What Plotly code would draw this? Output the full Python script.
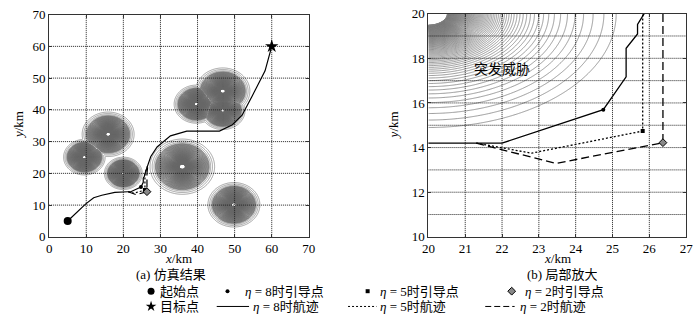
import numpy as np
import plotly.graph_objects as go

# ---------------- data ----------------
# threats: centre x, centre y, outer radius (km)
threat_x = [9.5, 15.9, 20.0, 35.9, 39.7, 46.8, 46.8, 49.8]
threat_y = [25.1, 32.3, 20.0, 22.1, 41.8, 45.9, 39.8, 10.1]
threat_r = [5.6, 7.0, 5.1, 8.7, 6.0, 7.3, 6.0, 7.0]

start_pt = (5.0, 5.0)
target_pt = (60.0, 60.0)

# eta = 8 route
eta8_x = [5.0, 9.8, 12.0, 14.2, 17.7, 19.5, 21.3, 22.0, 24.75, 25.37, 25.37, 25.68, 25.68, 25.86,
          26.6, 27.4, 29.1, 32.7, 37.1, 45.9, 49.4, 52.0, 54.7, 58.2, 60.0]
eta8_y = [5.0, 10.3, 12.3, 13.1, 14.0, 14.2, 14.2, 14.2, 15.7, 17.17, 18.45, 19.09, 19.52, 20.0,
          22.6, 25.3, 28.3, 31.8, 33.3, 33.3, 35.3, 38.3, 44.3, 52.3, 60.0]
# eta = 5 and eta = 2 routes (where they differ from eta = 8)
eta5_x = [21.3, 22.8, 25.82, 25.82, 26.6]
eta5_y = [14.2, 13.75, 14.74, 20.0, 22.6]
eta2_x = [21.3, 23.46, 26.37, 26.37, 26.6]
eta2_y = [14.2, 13.29, 14.22, 20.0, 22.6]
# guide points
guide8 = (24.75, 15.7)
guide5 = (25.82, 14.74)
guide2 = (26.37, 14.22)

left_ticks = list(range(0, 71, 10))
right_xticks = list(range(20, 28))
right_yticks = list(range(10, 21, 2))
right_ygrid = list(range(10, 21))

FONT = "Liberation Serif, Noto Sans CJK SC, serif"
W, H = 700, 324


def field(xs, ys):
    X, Y = np.meshgrid(xs, ys)
    f = np.zeros_like(X)
    for cx, cy, r in zip(threat_x, threat_y, threat_r):
        d = np.hypot(X - cx, Y - cy)
        f = np.maximum(f, r / np.maximum(d, 1e-3))
    return np.minimum(f, 30)


fig = go.Figure()

# left panel: a few outer rings + dense (log-spaced) core
xl = np.linspace(0, 70, 401)
yl = np.linspace(0, 70, 401)
fl = field(xl, yl)
fig.add_trace(go.Contour(x=xl, y=yl, z=fl, contours=dict(coloring="none", start=1.0, end=1.15, size=0.07),
                         line=dict(color="#8a8a8a", width=0.8), showscale=False,
                         hoverinfo="skip", xaxis="x", yaxis="y"))
fig.add_trace(go.Contour(x=xl, y=yl, z=np.log(fl),
                         contours=dict(coloring="none", start=np.log(1.2), end=np.log(11), size=0.028),
                         line=dict(color="#666666", width=0.9), showscale=False,
                         hoverinfo="skip", xaxis="x", yaxis="y"))
# right panel (zoom)
xr = np.linspace(20, 27, 281)
yr = np.linspace(10, 20, 401)
fig.add_trace(go.Contour(x=xr, y=yr, z=field(xr, yr), contours=dict(coloring="none", start=1.0, end=10.0, size=0.07),
                         line=dict(color="#808080", width=0.8), showscale=False,
                         hoverinfo="skip", xaxis="x2", yaxis="y2"))

grid_line = dict(color="#222", width=1, dash="1px,1px")


def grid(xv, yv, x0, x1, y0, y1, xa, ya):
    gx, gy = [], []
    for v in xv:
        if x0 < v < x1:
            gx += [v, v, None]
            gy += [y0, y1, None]
    for v in yv:
        if y0 < v < y1:
            gx += [x0, x1, None]
            gy += [v, v, None]
    fig.add_trace(go.Scatter(x=gx, y=gy, mode="lines", line=grid_line, hoverinfo="skip",
                             showlegend=False, xaxis=xa, yaxis=ya))


grid(left_ticks, left_ticks, 0, 70, 0, 70, "x", "y")
grid(right_xticks, right_ygrid, 20, 27, 10, 20, "x2", "y2")

for xa, ya, lw in (("x", "y", 1.2), ("x2", "y2", 1.3)):
    fig.add_trace(go.Scatter(x=eta5_x, y=eta5_y, mode="lines", line=dict(color="black", width=lw, dash="2px,2px"),
                             xaxis=xa, yaxis=ya, showlegend=False))
    fig.add_trace(go.Scatter(x=eta2_x, y=eta2_y, mode="lines", line=dict(color="black", width=lw, dash="8px,4px"),
                             xaxis=xa, yaxis=ya, showlegend=False))
    fig.add_trace(go.Scatter(x=eta8_x, y=eta8_y, mode="lines", line=dict(color="black", width=lw),
                             xaxis=xa, yaxis=ya, showlegend=False))
    fig.add_trace(go.Scatter(x=[guide8[0]], y=[guide8[1]], mode="markers",
                             marker=dict(symbol="circle", size=4, color="black"), xaxis=xa, yaxis=ya, showlegend=False))
    fig.add_trace(go.Scatter(x=[guide5[0]], y=[guide5[1]], mode="markers",
                             marker=dict(symbol="square", size=4, color="black"), xaxis=xa, yaxis=ya, showlegend=False))
    fig.add_trace(go.Scatter(x=[guide2[0]], y=[guide2[1]], mode="markers",
                             marker=dict(symbol="diamond", size=6, color="#888", line=dict(color="black", width=1)),
                             xaxis=xa, yaxis=ya, showlegend=False))

fig.add_trace(go.Scatter(x=[start_pt[0]], y=[start_pt[1]], mode="markers",
                         marker=dict(symbol="circle", size=8, color="black"), xaxis="x", yaxis="y", showlegend=False))
fig.add_trace(go.Scatter(x=[target_pt[0]], y=[target_pt[1]], mode="markers",
                         marker=dict(symbol="star", size=10, color="black"), xaxis="x", yaxis="y", showlegend=False))

# ---------------- manual legend (pixel overlay) ----------------
r1, r2 = 298, 314
leg_marks = [
    (147, r1, "circle", 7, "black", None),
    (225, r1, "circle", 4, "black", None),
    (368, r1, "square", 4, "black", None),
    (515, r1, "diamond", 6, "#888", "black"),
    (147, r2, "star", 8, "black", None),
]
for x, y, sym, sz, col, lcol in leg_marks:
    mk = dict(symbol=sym, size=sz, color=col)
    if lcol:
        mk["line"] = dict(color=lcol, width=1)
    fig.add_trace(go.Scatter(x=[x], y=[y], mode="markers", marker=mk, xaxis="x3", yaxis="y3",
                             showlegend=False, hoverinfo="skip"))
for x0, x1, dash in ((214, 247, "solid"), (348, 377, "2px,2px"), (488, 518, "6px,3px")):
    fig.add_trace(go.Scatter(x=[x0, x1], y=[r2, r2], mode="lines", line=dict(color="black", width=1, dash=dash),
                             xaxis="x3", yaxis="y3", showlegend=False, hoverinfo="skip"))

ann = []


def txt(x, y, s, anchor="left", size=13, angle=0, h=15):
    a = dict(x=x, y=y, xref="x3", yref="y3", text=s, showarrow=False, xanchor=anchor,
             yanchor="middle", textangle=angle, borderpad=0,
             font=dict(family=FONT, size=size, color="black"))
    if h:
        a["height"] = h
    ann.append(a)


txt(155, r1, "起始点")
txt(242, r1, "<i>η</i> = 8时引导点")
txt(380, r1, "<i>η</i> = 5时引导点")
txt(528, r1, "<i>η</i> = 2时引导点")
txt(155, r2, "目标点")
txt(250, r2, "<i>η</i> = 8时航迹")
txt(380, r2, "<i>η</i> = 5时航迹")
txt(522, r2, "<i>η</i> = 2时航迹")
txt(175.5, 264, "<i>x</i>/km", "center", 13)
txt(561.5, 264, "<i>x</i>/km", "center", 13)
txt(167, 280, "(a) 仿真结果", "center", 13)
txt(566, 280, "(b) 局部放大", "center", 13)
txt(11, 124, "<i>y</i>/km", "center", 13, -90, None)
txt(394, 124, "<i>y</i>/km", "center", 13, -90, None)
ann.append(dict(x=22.0, y=17.5, xref="x2", yref="y2", text="突发威胁", showarrow=False,
                font=dict(family=FONT, size=14, color="black")))

ax = dict(showline=True, linecolor="#333", linewidth=1, mirror="ticks", ticks="inside", ticklen=3,
          tickcolor="#333", showgrid=False, zeroline=False, layer="above traces",
          tickfont=dict(family=FONT, size=13, color="black"))
ydom = [1 - 241 / H, 1 - 8 / H]
fig.update_layout(
    width=W, height=H, margin=dict(l=0, r=0, t=0, b=0),
    paper_bgcolor="white", plot_bgcolor="rgba(0,0,0,0)", showlegend=False,
    xaxis=dict(ax, domain=[43 / W, 308 / W], range=[0, 70], tickvals=left_ticks, anchor="y"),
    yaxis=dict(ax, domain=ydom, range=[0, 70], tickvals=left_ticks, anchor="x"),
    xaxis2=dict(ax, domain=[430 / W, 693 / W], range=[20, 27], tickvals=right_xticks, anchor="y2"),
    yaxis2=dict(ax, domain=[1 - 241 / H, 1 - 7 / H], range=[10, 20], tickvals=right_yticks, anchor="x2"),
    xaxis3=dict(domain=[0, 1], range=[0, W], visible=False, anchor="y3", fixedrange=True),
    yaxis3=dict(domain=[0, 1], range=[H, 0], visible=False, anchor="x3", fixedrange=True),
    annotations=ann,
)
fig.write_html("out.html")
